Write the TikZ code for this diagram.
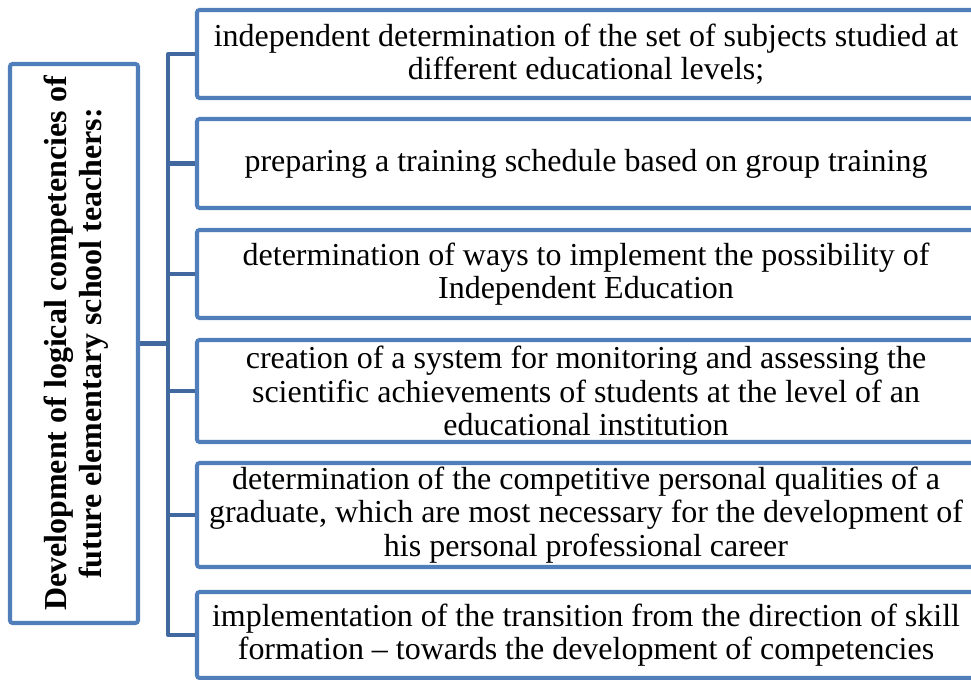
\documentclass[tikz,border=0pt]{standalone}
\usepackage{fontspec}
\setmainfont{Liberation Serif}
\usepackage{xcolor}
\usepackage{tikz}
\usetikzlibrary{positioning}

\definecolor{boxblue}{HTML}{4F7EBA}
\definecolor{linkblue}{HTML}{41699F}

\begin{document}
\begin{tikzpicture}[line width=2.3pt]

			\tikzstyle{item} = [draw=boxblue,fill=white,rounded corners=1.5pt,minimum width=15.56cm,align=center,inner sep=2pt,font=\fontsize{18.2}{18.9}\selectfont]
			\tikzstyle{link} = [draw=linkblue,line join=round]

			\useasboundingbox (0,0) rectangle (19.42,13.6);

			% title box on the left, text turned upwards
			\node[draw=boxblue,fill=white,rounded corners=1.5pt,minimum width=2.56cm,minimum height=11.18cm] (lead) at (1.48,6.73) {};
			\node[rotate=90,align=center,font=\fontsize{18.2}{19.8}\selectfont\bfseries] (leadtext) at (1.53,6.73) {Development of logical competencies of\\future elementary school teachers:};

			% the six measures
			\node[item,minimum height=1.76cm] (m1) at (11.72,12.52) {independent determination of the set of subjects studied at\\different educational levels;};
			\node[item,minimum height=1.78cm] (m2) at (11.72,10.33) {preparing a training schedule based on group training};
			\node[item,minimum height=1.76cm] (m3) at (11.72,8.12) {determination of ways to implement the possibility of\\Independent Education};
			\node[item,minimum height=2.04cm] (m4) at (11.72,5.78) {creation of a system for monitoring and assessing the\\scientific achievements of students at the level of an\\educational institution};
			\node[item,minimum height=2.08cm] (m5) at (11.72,3.30) {determination of the competitive personal qualities of a\\graduate, which are most necessary for the development of\\his personal professional career};
			\node[item,minimum height=1.72cm] (m6) at (11.72,0.90) {implementation of the transition from the direction of skill\\formation -- towards the development of competencies};

			% bracket
			\coordinate (spine) at (3.36,6.73);
			\draw[link] (m1.west) -- (m1.west -| spine) -- (m6.west -| spine) -- (m6.west);
			\foreach \k in {2,...,5}
				\draw[link] (m\k.west) -- (m\k.west -| spine);
			\draw[link] (lead.east) -- (spine);

		\end{tikzpicture}
\end{document}
